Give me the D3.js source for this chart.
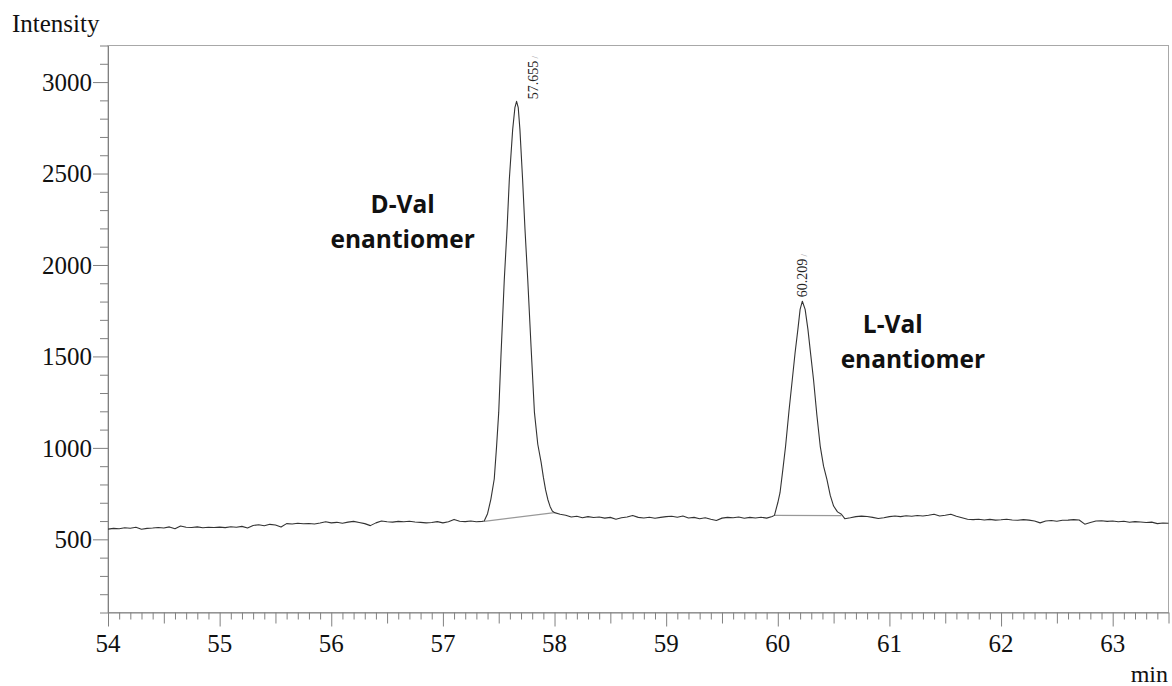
<!DOCTYPE html>
<html><head><meta charset="utf-8">
<script src="https://cdn.jsdelivr.net/npm/d3@7"></script>
<style>html,body{margin:0;padding:0;background:#fff;}</style>
</head><body>
<svg id="chart" width="1172" height="686"></svg>
<script>
// ---- data ----
const xMajorTicks = [54, 55, 56, 57, 58, 59, 60, 61, 62, 63];
const yMajorTicks = [500, 1000, 1500, 2000, 2500, 3000];
const xDomain = [54, 63.5];
const yDomain = [100, 3200];
const peakTimes = [57.655, 60.209];
const peakLabels = ["57.655", "60.209"];
const peakTops = [2895, 1802];
const annotations = [["D-Val", "enantiomer"], ["L-Val", "enantiomer"]];
// integration baselines [t0, v0, t1, v1]
const integrationLines = [[57.37, 598, 58.00, 646], [59.97, 631, 60.57, 630]];
// chromatogram trace [time (min), intensity]
const traceBefore = [[54.00,556],[54.05,560],[54.10,558],[54.15,563],[54.20,561],[54.25,566],[54.30,555],[54.35,560],[54.40,562],[54.45,565],[54.50,562],[54.55,568],[54.60,558],[54.65,573],[54.70,566],[54.75,565],[54.80,568],[54.85,563],[54.90,566],[54.95,565],[55.00,567],[55.05,564],[55.10,569],[55.15,566],[55.20,571],[55.25,562],[55.30,576],[55.35,580],[55.40,574],[55.45,582],[55.50,578],[55.55,567],[55.60,586],[55.65,584],[55.70,588],[55.75,585],[55.80,587],[55.85,584],[55.90,589],[55.95,596],[56.00,590],[56.05,593],[56.10,588],[56.15,594],[56.20,598],[56.25,592],[56.30,586],[56.35,575],[56.40,590],[56.45,600],[56.50,596],[56.55,594],[56.60,598],[56.65,596],[56.70,599],[56.75,595],[56.80,593],[56.85,590],[56.90,592],[56.95,597],[57.00,590],[57.05,596],[57.10,609],[57.15,599],[57.20,597],[57.25,600],[57.30,596],[57.35,598]];
const tracePeak1 = [[57.37,600],[57.40,640],[57.43,720],[57.46,830],[57.48,1000],[57.50,1194],[57.52,1500],[57.55,1921],[57.575,2200],[57.595,2467],[57.625,2740],[57.645,2860],[57.66,2895],[57.675,2860],[57.69,2740],[57.714,2467],[57.735,2200],[57.76,1921],[57.79,1550],[57.82,1194],[57.85,1020],[57.88,921],[57.90,840],[57.92,770],[57.94,718],[57.96,680],[57.98,655],[58.00,646]];
const traceBetween = [[58.05,637],[58.10,632],[58.15,622],[58.20,626],[58.25,618],[58.30,624],[58.35,619],[58.40,622],[58.45,616],[58.50,620],[58.55,610],[58.60,618],[58.65,622],[58.70,630],[58.75,620],[58.80,617],[58.85,621],[58.90,615],[58.95,620],[59.00,624],[59.05,626],[59.10,621],[59.15,628],[59.20,617],[59.25,620],[59.30,613],[59.35,618],[59.40,610],[59.45,603],[59.50,616],[59.55,620],[59.60,618],[59.65,622],[59.70,615],[59.75,620],[59.80,617],[59.85,621],[59.90,616],[59.95,625]];
const tracePeak2 = [[59.97,631],[60.00,700],[60.02,755],[60.045,880],[60.07,1010],[60.10,1200],[60.13,1374],[60.155,1520],[60.18,1648],[60.20,1757],[60.22,1802],[60.245,1757],[60.27,1648],[60.295,1510],[60.32,1374],[60.35,1180],[60.38,1010],[60.41,900],[60.44,828],[60.47,740],[60.50,682],[60.535,650],[60.57,637]];
const traceAfter = [[60.60,613],[60.65,618],[60.70,624],[60.75,627],[60.80,625],[60.85,620],[60.90,614],[60.95,618],[61.00,624],[61.05,628],[61.10,624],[61.15,629],[61.20,626],[61.25,630],[61.30,628],[61.35,632],[61.40,637],[61.45,628],[61.50,632],[61.55,637],[61.60,626],[61.65,618],[61.70,610],[61.75,608],[61.80,610],[61.85,606],[61.90,609],[61.95,605],[62.00,607],[62.05,610],[62.10,606],[62.15,604],[62.20,608],[62.25,605],[62.30,600],[62.35,590],[62.40,600],[62.45,603],[62.50,599],[62.55,604],[62.60,605],[62.65,608],[62.70,606],[62.75,583],[62.80,592],[62.85,600],[62.90,602],[62.95,598],[63.00,600],[63.05,596],[63.10,599],[63.15,593],[63.20,597],[63.25,595],[63.30,592],[63.35,594],[63.40,586],[63.45,589],[63.50,588]];
const trace = [].concat(traceBefore, tracePeak1, traceBetween, tracePeak2, traceAfter);

(function draw() {
const svg = d3.select("#chart");
const pLeft = 108, pRight = 1168.5, pTop = 45.5, pBottom = 612.5;
const x = d3.scaleLinear().domain(xDomain).range([pLeft, pRight]);
const y = d3.scaleLinear().domain(yDomain).range([pBottom, pTop]);
const axisColor = "#808080";
const serif = "'Liberation Serif','Times New Roman',serif";

// frame
svg.append("rect").attr("x", pLeft).attr("y", pTop).attr("width", pRight - pLeft).attr("height", pBottom - pTop)
  .attr("fill", "none").attr("stroke", "#a8a8a8").attr("stroke-width", 1);

// y axis
const yMinor = d3.range(100, 3201, 100);
const yAxis = d3.axisLeft(y).tickValues(yMinor).tickSize(0).tickFormat("");
const gy = svg.append("g").attr("transform", `translate(${pLeft},0)`).call(yAxis);
gy.select(".domain").attr("stroke", axisColor);
gy.selectAll(".tick line").attr("stroke", axisColor)
  .attr("x2", d => yMajorTicks.includes(d) ? -15 : -8);
gy.selectAll(".tick text").remove();
svg.append("g").selectAll("text").data(yMajorTicks).join("text")
  .attr("x", pLeft - 16).attr("y", d => y(d)).attr("dy", "0.35em")
  .attr("text-anchor", "end").attr("font-family", serif).attr("font-size", 25).attr("fill", "#111")
  .text(d => d);

// x axis
const xMinor = d3.range(540, 636, 1).map(d => d / 10);
const xAxis = d3.axisBottom(x).tickValues(xMinor).tickSize(0).tickFormat("");
const gx = svg.append("g").attr("transform", `translate(0,${pBottom})`).call(xAxis);
gx.select(".domain").attr("stroke", axisColor);
gx.selectAll(".tick line").attr("stroke", axisColor)
  .attr("y2", d => {
    const r = Math.round(d * 10);
    if (r % 10 === 0) return 14;
    if (r % 5 === 0) return 11;
    return 7;
  });
svg.append("g").selectAll("text").data(xMajorTicks).join("text")
  .attr("x", d => x(d)).attr("y", 652).attr("text-anchor", "middle")
  .attr("font-family", serif).attr("font-size", 25).attr("fill", "#111")
  .text(d => d);

// axis titles
svg.append("text").attr("x", 12).attr("y", 32).attr("font-family", serif).attr("font-size", 25)
  .attr("fill", "#111").text("Intensity");
svg.append("text").attr("x", 1168).attr("y", 682).attr("text-anchor", "end").attr("font-family", serif)
  .attr("font-size", 24).attr("fill", "#111").text("min");

// integration baselines
svg.append("g").selectAll("line").data(integrationLines).join("line")
  .attr("x1", d => x(d[0])).attr("y1", d => y(d[1]))
  .attr("x2", d => x(d[2])).attr("y2", d => y(d[3]))
  .attr("stroke", "#999").attr("stroke-width", 1.2);

// trace
const line = d3.line().x(d => x(d[0])).y(d => y(d[1]));
svg.append("path").datum(trace).attr("d", line)
  .attr("fill", "none").attr("stroke", "#333").attr("stroke-width", 1.1).attr("stroke-linejoin", "round");

// peak retention-time labels (rotated)
const labelOffsets = [[22, -2], [6, -4]];
peakLabels.forEach((lab, i) => {
  const lx = x(peakTimes[i]) + labelOffsets[i][0];
  const ly = y(peakTops[i]) + labelOffsets[i][1];
  const t = svg.append("text").attr("transform", `translate(${lx},${ly}) rotate(-90)`)
    .attr("font-family", serif).attr("font-size", 14).attr("fill", "#222");
  t.append("tspan").text(lab);
  t.append("tspan").attr("fill", "#aaa").attr("font-size", 9).text(" /");
});

// enantiomer annotations: [x of line 1, baseline 1, x of line 2, baseline 2] (in minutes / px)
const annPos = [[56.64, 213, 56.64, 248], [61.03, 333, 61.21, 368]];
annotations.forEach((a, i) => {
  const g = svg.append("g").attr("font-family", "'Open Sans',sans-serif").attr("font-weight", "bold")
    .attr("font-size", 24.5).attr("fill", "#111").attr("text-anchor", "middle");
  g.append("text").attr("x", x(annPos[i][0])).attr("y", annPos[i][1]).text(a[0]);
  g.append("text").attr("x", x(annPos[i][2])).attr("y", annPos[i][3]).text(a[1]);
});
})();
</script>
</body></html>
